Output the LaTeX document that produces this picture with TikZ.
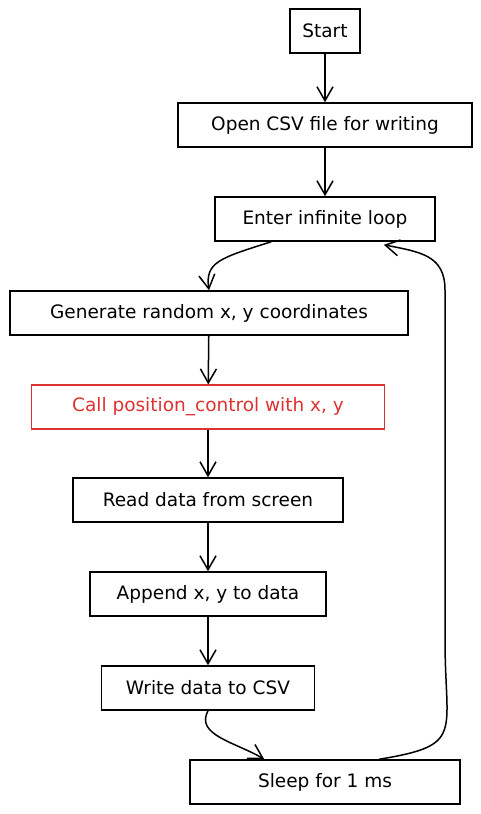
\documentclass[tikz,border=0pt]{standalone}
\usepackage{fontspec}
\setmainfont{DejaVu Sans}
\usetikzlibrary{arrows.meta,calc}
\definecolor{alarm}{HTML}{E03131}
\tikzset{
  stepbox/.style={draw, line width=1.5pt, minimum height=44pt, inner sep=0pt, font=\fontsize{18.5}{20}\selectfont},
  flow/.style={line width=1.5pt, -{Straight Barb[length=14pt,width=16pt,line width=1.5pt]}}
}
\begin{document}
\begin{tikzpicture}[x=1pt,y=-1pt]
\useasboundingbox (0,0) rectangle (481,814); % page size
\node[stepbox, minimum width=70pt] (start) at (325,31) {Start};
\node[stepbox, minimum width=294pt] (open) at (325,125) {Open CSV file for writing};
\node[stepbox, minimum width=220pt] (loop) at (325,219) {Enter infinite loop};
\node[stepbox, minimum width=398pt] (gen) at (209,313) {Generate random x, y coordinates};
\node[stepbox, minimum width=353pt, draw=alarm, text=alarm, line width=1.2pt] (call) at (208,407) {Call position\_control with x, y};
\node[stepbox, minimum width=270pt] (read) at (208,500) {Read data from screen};
\node[stepbox, minimum width=236pt] (append) at (208,594) {Append x, y to data};
\node[stepbox, minimum width=213pt] (write) at (208,688) {Write data to CSV};
\node[stepbox, minimum width=270pt] (sleep) at (325,782) {Sleep for 1 ms};
% straight arrows down the chain
\draw[flow] (start) -- (open);
\draw[flow] (open) -- (loop);
\foreach \a/\b in {gen/call, call/read, read/append, append/write}
\draw[flow] (\a) -- (\b);
% bent arrows
\draw[flow] ($(loop.south west)+(57,0)$) .. controls (220,258) and (205,262) .. (gen.north);
\draw[flow] (write.south) .. controls (195,735) and (235,742) .. ($(sleep.north west)+(75,0)$);
\draw[flow] ($(sleep.north west)+(190,0)$) .. controls (465,745) and (445,735) .. (445,640)
  -- (445,290) .. controls (445,255) and (420,252) .. ($(loop.south east)+(-52,3)$);
\end{tikzpicture}
\end{document}
